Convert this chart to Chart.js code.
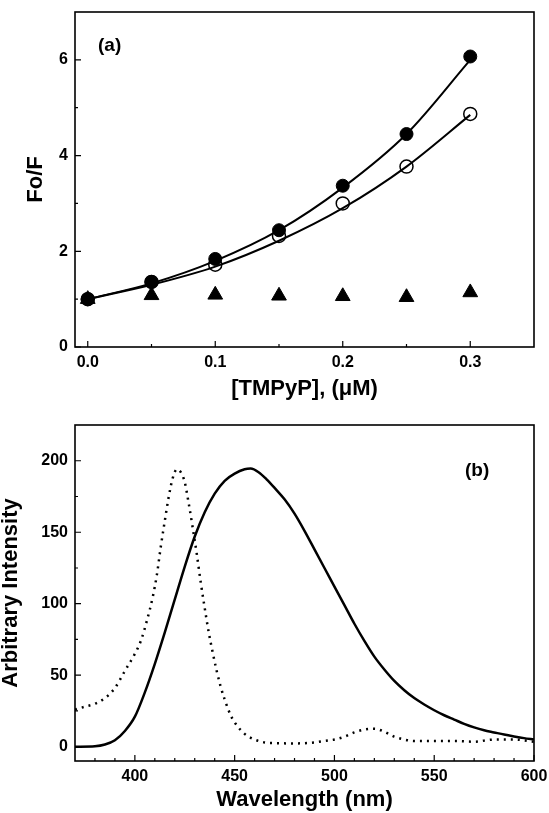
<!DOCTYPE html>
<html>
<head>
<meta charset="utf-8">
<script src="https://cdn.jsdelivr.net/npm/chart.js@4.4.1/dist/chart.umd.min.js"></script>
<style>
  body { margin: 0; background: #fff; }
  #wrap { position: relative; width: 549px; height: 813px; }
  canvas { position: absolute; left: 0; }
  .tag { position: absolute; font: bold 19px "Liberation Sans", Arial, sans-serif; color: #000; }
</style>
</head>
<body>
<div id="wrap">
  <canvas id="chartA" width="549" height="400" style="top:0"></canvas>
  <canvas id="chartB" width="549" height="413" style="top:400px"></canvas>
  <div class="tag" style="left:98px; top:34px">(a)</div>
  <div class="tag" style="left:465px; top:459px">(b)</div>
</div>
<script>
// panel (a): quenching, Fo/F vs [TMPyP]
const conc = [0, 0.05, 0.1, 0.15, 0.2, 0.25, 0.3];
const filledPts = [1.0, 1.36, 1.84, 2.44, 3.37, 4.45, 6.07];
const openPts = [1.0, 1.36, 1.72, 2.32, 3.0, 3.77, 4.87];
const trianglePts = [1.0, 1.08, 1.09, 1.07, 1.06, 1.04, 1.14];
const filledFit = [1.0, 1.33, 1.8, 2.44, 3.33, 4.45, 6.0];
const openFit = [1.0, 1.3, 1.68, 2.22, 2.9, 3.77, 4.85];
const aMinorX = [0.05, 0.15, 0.25];
const aMinorY = [1, 3, 5];

// panel (b): spectra
const emWave = [370, 380, 385, 390, 395, 400, 405, 410, 415, 420, 425, 430, 435, 440, 445, 450, 455, 458, 462, 466, 470, 475, 480, 485, 490, 495, 500, 505, 510, 515, 520, 525, 530, 535, 540, 545, 550, 555, 560, 565, 570, 575, 580, 585, 590, 595, 600];
const emVal = [0, 0.3, 1.5, 4.5, 11, 21, 38, 58, 80, 103, 126, 147, 164, 177, 186, 191, 194, 194.5, 192, 187, 181, 173, 163, 151, 138, 125, 112, 99, 86, 74, 63, 54, 46, 39.5, 34, 29.5, 25.5, 22, 19, 16, 13.5, 11.5, 10, 8.5, 7.2, 6, 5];
const exWave = [370, 375, 380, 385, 390, 395, 400, 403, 406, 409, 411, 413, 415, 417, 419, 421, 423, 425, 427, 429, 431, 433, 435, 437, 439, 441, 443, 445, 448, 450, 455, 460, 465, 470, 480, 490, 495, 500, 505, 510, 515, 520, 525, 530, 535, 540, 550, 560, 570, 580, 590, 600];
const exVal = [26, 28, 30, 34, 41, 53, 65, 74, 88, 105, 120, 140, 158, 175, 188, 194, 192, 185, 170, 153, 135, 115, 97, 80, 66, 53, 42, 33, 22, 17, 9, 5, 3, 2.5, 2.3, 3, 4, 5, 7, 10, 12, 12.5, 10.5, 7, 5, 4, 4, 4, 3.5, 5, 5, 3.5];
const bMinorX = [380, 390, 410, 420, 430, 440, 460, 470, 480, 490, 510, 520, 530, 540, 560, 570, 580, 590];
const bMinorY = [25, 75, 125, 175];

Chart.defaults.color = '#000';
Chart.defaults.font.family = '"Liberation Sans", Arial, sans-serif';

const frame = {
  id: 'frame',
  afterDraw(chart, args, opts) {
    const {ctx, chartArea: a, scales: {x, y}} = chart;
    ctx.save();
    ctx.strokeStyle = '#000';
    ctx.lineWidth = 1.6;
    ctx.strokeRect(a.left, a.top, a.right - a.left, a.bottom - a.top);
    ctx.lineWidth = 1.2;
    ctx.beginPath();
    const xt = (v, len) => { const p = x.getPixelForValue(v); ctx.moveTo(p, a.bottom); ctx.lineTo(p, a.bottom - len); };
    const yt = (v, len) => { const p = y.getPixelForValue(v); ctx.moveTo(a.left, p); ctx.lineTo(a.left + len, p); };
    x.ticks.forEach(t => xt(t.value, 6));
    opts.minorX.forEach(v => xt(v, 3));
    y.ticks.forEach(t => yt(t.value, 6));
    opts.minorY.forEach(v => yt(v, 3));
    ctx.stroke();
    ctx.restore();
  }
};

const tickFont = {size: 16, weight: 'bold'};
const titleFont = {size: 22, weight: 'bold', lineHeight: 1};

function xy(xs, ys) {
  return xs.map((v, i) => ({x: v, y: ys[i]}));
}

function fitX(h) {
  return s => { s.height = h; s.paddingLeft = 0; s.paddingRight = 0; };
}
function fitY(s) {
  s.width = 75; s.paddingTop = 0; s.paddingBottom = 0;
}

new Chart(document.getElementById('chartA'), {
  type: 'scatter',
  data: {
    datasets: [
      {
        type: 'line', data: xy(conc, filledFit), borderColor: '#000', borderWidth: 2,
        pointRadius: 0, tension: 0.4, cubicInterpolationMode: 'monotone', fill: false
      },
      {
        type: 'line', data: xy(conc, openFit), borderColor: '#000', borderWidth: 2,
        pointRadius: 0, tension: 0.4, cubicInterpolationMode: 'monotone', fill: false
      },
      {
        data: xy(conc, filledPts), pointStyle: 'circle', pointRadius: 6.5,
        backgroundColor: '#000', borderColor: '#000', borderWidth: 1
      },
      {
        data: xy(conc, openPts), pointStyle: 'circle', pointRadius: 6.5,
        backgroundColor: 'rgba(0,0,0,0)', borderColor: '#000', borderWidth: 1.5
      },
      {
        data: xy(conc, trianglePts), pointStyle: 'triangle', pointRadius: 8.5,
        backgroundColor: '#000', borderColor: '#000', borderWidth: 1
      }
    ]
  },
  options: {
    responsive: false,
    animation: false,
    devicePixelRatio: 1,
    layout: {padding: {left: 0, right: 15, top: 12, bottom: 0}},
    plugins: {legend: {display: false}, tooltip: {enabled: false}, frame: {minorX: aMinorX, minorY: aMinorY}},
    scales: {
      x: {
        type: 'linear', min: -0.01, max: 0.35,
        grid: {display: false, drawTicks: false},
        border: {display: false},
        ticks: {stepSize: 0.1, includeBounds: false, padding: 6, font: tickFont, callback: v => v.toFixed(1)},
        title: {display: true, text: '[TMPyP], (\u03bcM)', font: titleFont, padding: {top: 0, bottom: 0}},
        afterFit: fitX(53)
      },
      y: {
        type: 'linear', min: 0, max: 7,
        grid: {display: false, drawTicks: false},
        border: {display: false},
        ticks: {stepSize: 2, includeBounds: false, padding: 7, font: tickFont},
        title: {display: true, text: 'Fo/F', font: titleFont, padding: {top: 25, bottom: 0}},
        afterFit: fitY
      }
    }
  },
  plugins: [frame]
});

new Chart(document.getElementById('chartB'), {
  type: 'line',
  data: {
    datasets: [
      {
        data: xy(emWave, emVal), borderColor: '#000', borderWidth: 2.5,
        pointRadius: 0, tension: 0.4, cubicInterpolationMode: 'monotone', fill: false
      },
      {
        data: xy(exWave, exVal), borderColor: '#000', borderWidth: 2.5, borderDash: [2, 5],
        pointRadius: 0, tension: 0.4, cubicInterpolationMode: 'monotone', fill: false
      }
    ]
  },
  options: {
    responsive: false,
    animation: false,
    devicePixelRatio: 1,
    layout: {padding: {left: 0, right: 15, top: 25, bottom: 0}},
    plugins: {legend: {display: false}, tooltip: {enabled: false}, frame: {minorX: bMinorX, minorY: bMinorY}},
    scales: {
      x: {
        type: 'linear', min: 370, max: 600,
        grid: {display: false, drawTicks: false},
        border: {display: false},
        ticks: {stepSize: 50, includeBounds: false, padding: 6, font: tickFont},
        title: {display: true, text: 'Wavelength (nm)', font: titleFont, padding: {top: 0, bottom: 2}},
        afterFit: fitX(52)
      },
      y: {
        type: 'linear', min: -10, max: 225,
        grid: {display: false, drawTicks: false},
        border: {display: false},
        ticks: {stepSize: 50, includeBounds: false, padding: 7, font: tickFont},
        title: {display: true, text: 'Arbitrary Intensity', font: titleFont, padding: {top: 0, bottom: 0}},
        afterFit: fitY
      }
    }
  },
  plugins: [frame]
});
</script>
</body>
</html>
